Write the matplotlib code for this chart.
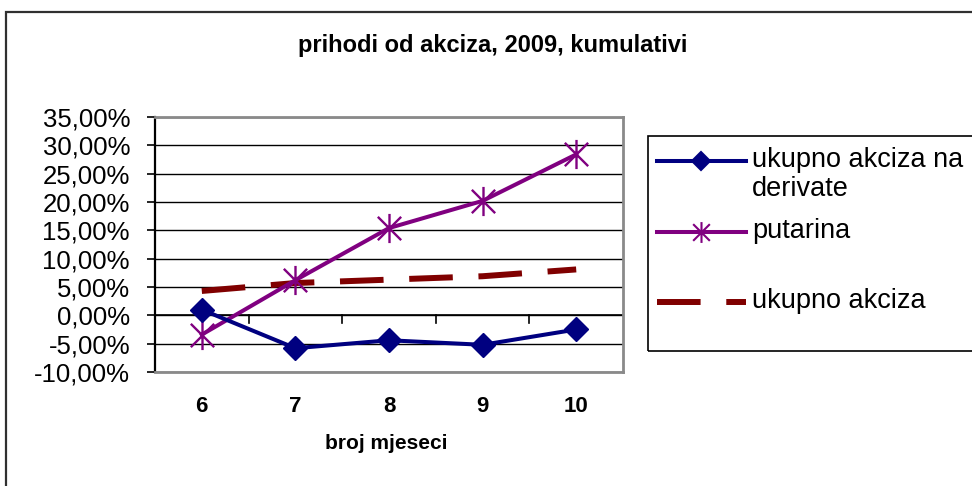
import matplotlib
matplotlib.use("Agg")
import matplotlib.pyplot as plt
from matplotlib.lines import Line2D
from matplotlib.patches import Rectangle
from matplotlib.path import Path
from matplotlib.ticker import FuncFormatter

plt.rcParams["font.family"] = ["Liberation Sans", "DejaVu Sans"]

MJESECI = ["6", "7", "8", "9", "10"]
DERIVATI = [1.0, -5.8, -4.4, -5.2, -2.5]
PUTARINA = [-3.4, 6.2, 15.4, 20.2, 28.4]
AKCIZA = [4.3, 5.7, 6.3, 6.9, 8.1]
Y_TICKS = [-10, -5, 0, 5, 10, 15, 20, 25, 30, 35]
NAZIVI = ["ukupno akciza na\nderivate", "putarina", "ukupno akciza"]

W, H = 972, 486


def fx(px):
    return px / W


def fy(py):
    # piksel od vrha slike -> koordinata figure
    return 1 - py / H


# Excel-ova zvjezdica: uspravna crta + "x"
ZVJEZDICA = Path(
    [(0, -1), (0, 1), (-0.8, -0.8), (0.8, 0.8), (-0.8, 0.8), (0.8, -0.8)],
    [Path.MOVETO, Path.LINETO] * 3)

fig = plt.figure(figsize=(9.72, 4.86), dpi=100)
# okvir cijelog grafikona
fig.patches.append(Rectangle((fx(6), -0.05), 1.0, fy(12) + 0.05,
                             transform=fig.transFigure, fill=False,
                             edgecolor="#303030", lw=1.6))

ax = fig.add_axes([fx(155), fy(372), fx(623 - 155), (372 - 117) / H])
x = list(range(len(MJESECI)))

STILOVI = [
    dict(color="#000080", lw=2.9, marker="D", ms=12),
    dict(color="#800080", lw=2.9, marker=ZVJEZDICA, ms=21, mew=1.7),
    dict(color="#800000", lw=4.3, dashes=(7.3, 4.3)),
]

ax.plot(x, AKCIZA, zorder=3, **STILOVI[2])
ax.plot(x, PUTARINA, zorder=4, **STILOVI[1])
ax.plot(x, DERIVATI, zorder=5, **STILOVI[0])

ax.set_xlim(-0.5, len(MJESECI) - 0.5)
ax.set_ylim(-10, 35)
ax.set_yticks(Y_TICKS)
ax.yaxis.set_major_formatter(
    FuncFormatter(lambda v, p: f"{v:.2f}%".replace(".", ",")))
ax.set_xticks(x)
ax.set_xticklabels(MJESECI, fontweight="bold")
ax.tick_params(axis="y", labelsize=18.5, length=6, width=1.2, direction="out",
               pad=12)
ax.tick_params(axis="x", labelsize=16, length=0, pad=17)
# oznake kategorija na osi x (y=0)
for xi in [0.5, 1.5, 2.5, 3.5]:
    ax.plot([xi, xi], [0, -1.4], color="black", lw=1.2, zorder=2)
ax.axhline(0, color="black", lw=1.2, zorder=2)

ax.grid(axis="y", color="black", lw=1.0)
ax.set_axisbelow(True)
for s in ["top", "right", "bottom"]:
    ax.spines[s].set_color("#8a8a8a")
    ax.spines[s].set_linewidth(2)
ax.spines["left"].set_color("black")
ax.spines["left"].set_linewidth(1.6)

ax.set_xlabel("broj mjeseci", fontsize=15, fontweight="bold")
ax.xaxis.label.set_va("baseline")
ax.xaxis.set_label_coords((386 - 155) / (623 - 155), (372 - 449) / (372 - 117))

fig.text(fx(493), fy(52), "prihodi od akciza, 2009, kumulativi",
         ha="center", va="baseline", fontsize=17, fontweight="bold")

# legenda, nacrtana rucno kao u Excelu
fig.patches.append(Rectangle((fx(648), fy(351)), 1.0, (351 - 136) / H,
                             transform=fig.transFigure, fill=False,
                             edgecolor="black", lw=1.2))
LEG_Y = [161, 232, 302]
LEG_MS = [9, 15, None]
for i, (naziv, yy) in enumerate(zip(NAZIVI, LEG_Y)):
    st = dict(STILOVI[i])
    st.pop("marker", None)
    st.pop("ms", None)
    st.pop("mew", None)
    fig.add_artist(Line2D([fx(657), fx(746)], [fy(yy), fy(yy)],
                          transform=fig.transFigure, **st))
    if LEG_MS[i]:
        fig.add_artist(Line2D([fx(701)], [fy(yy)], transform=fig.transFigure,
                              color=STILOVI[i]["color"],
                              marker=STILOVI[i]["marker"], ms=LEG_MS[i],
                              mew=1.5, ls="none"))
    for j, red in enumerate(naziv.split("\n")):
        fig.text(fx(752), fy(yy + 6 + 29 * j), red, fontsize=19.5,
                 va="baseline", ha="left")

fig.savefig("out.png", dpi=100)
